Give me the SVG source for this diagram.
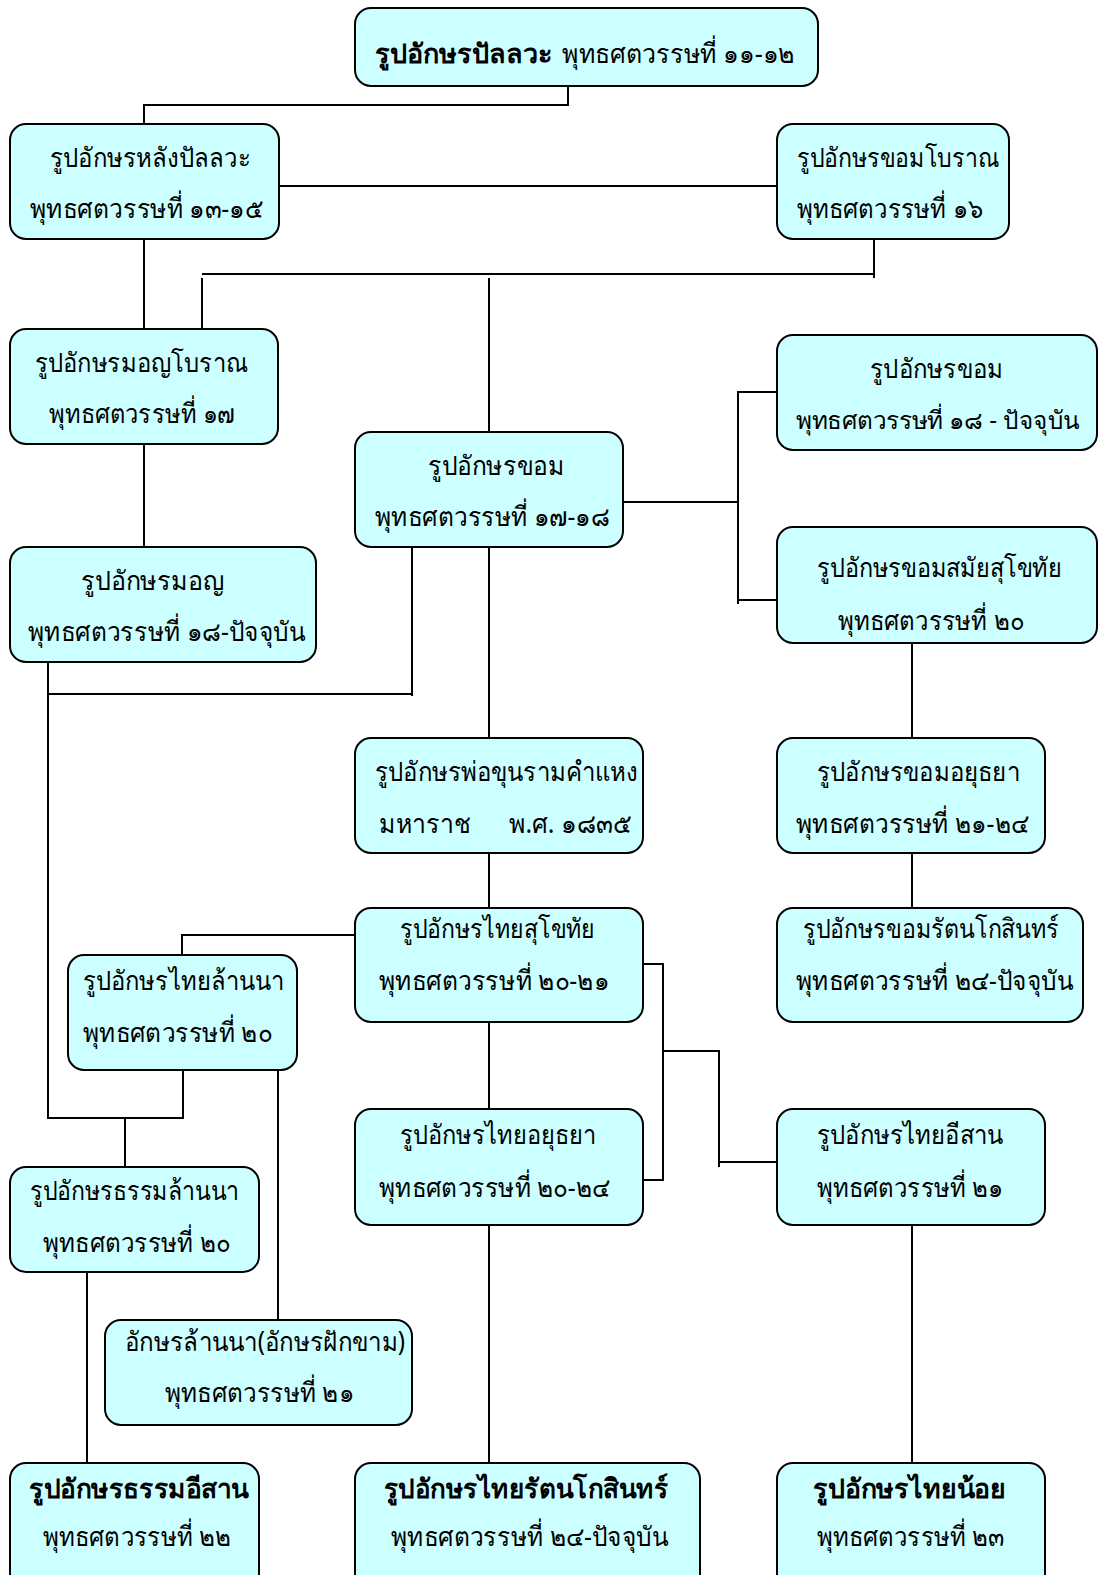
<svg xmlns="http://www.w3.org/2000/svg" width="1101" height="1575" viewBox="0 0 1101 1575">
<style>
.box{fill:#CCFFFF;stroke:#000;stroke-width:2}
.t{font-family:"Noto Sans","DejaVu Sans",sans-serif;font-size:27px;fill:#000}
.s{font-size:25px}
.b{font-weight:bold}
.c{fill:none;stroke:#000;stroke-width:2}
</style>
<rect width="1101" height="1575" fill="#fff"/>
<g id="connectors">
<path class="c" d="M568,86 V105 H144 V124"/>
<path class="c" d="M279,186 H777"/>
<path class="c" d="M144,239 V329"/>
<path class="c" d="M874,239 V278 M202,274 H874 M202,278 V329 M489,278 V432"/>
<path class="c" d="M144,444 V547"/>
<path class="c" d="M623,502 H738 M738,391 V604 M738,392 H777 M738,600 H777"/>
<path class="c" d="M412,547 V696 M48,694 H412 M48,662 V1118 H183 V1070 M125,1118 V1167"/>
<path class="c" d="M489,547 V738 M489,853 V908 M489,1022 V1109 M489,1225 V1463"/>
<path class="c" d="M912,643 V738 M912,853 V908 M912,1225 V1463"/>
<path class="c" d="M355,935 H182 V955"/>
<path class="c" d="M643,964 H663 V1180 H643 M663,1051 H719 V1167 M719,1162 H777"/>
<path class="c" d="M278,1070 V1320"/>
<path class="c" d="M87,1272 V1463"/>
</g>
<g id="nodes">
<g id="n1"><rect class="box" x="355" y="8" width="463" height="78" rx="16"/><text class="t b" x="375" y="63" textLength="178" lengthAdjust="spacingAndGlyphs">รูปอักษรปัลลวะ</text><text class="t" x="562" y="63" textLength="233" lengthAdjust="spacingAndGlyphs">พุทธศตวรรษที่ ๑๑-๑๒</text></g>
<g id="n2"><rect class="box" x="10" y="124" width="269" height="115" rx="16"/><text class="t" x="50" y="167" textLength="201" lengthAdjust="spacingAndGlyphs">รูปอักษรหลังปัลลวะ</text><text class="t" x="30" y="218" textLength="233" lengthAdjust="spacingAndGlyphs">พุทธศตวรรษที่ ๑๓-๑๕</text></g>
<g id="n3"><rect class="box" x="777" y="124" width="232" height="115" rx="16"/><text class="t" x="797" y="167" textLength="202" lengthAdjust="spacingAndGlyphs">รูปอักษรขอมโบราณ</text><text class="t" x="797" y="218" textLength="186" lengthAdjust="spacingAndGlyphs">พุทธศตวรรษที่ ๑๖</text></g>
<g id="n4"><rect class="box" x="10" y="329" width="268" height="115" rx="16"/><text class="t" x="35" y="372" textLength="213" lengthAdjust="spacingAndGlyphs">รูปอักษรมอญโบราณ</text><text class="t" x="49" y="423" textLength="186" lengthAdjust="spacingAndGlyphs">พุทธศตวรรษที่ ๑๗</text></g>
<g id="n5"><rect class="box" x="355" y="432" width="268" height="115" rx="16"/><text class="t" x="428" y="475" textLength="136" lengthAdjust="spacingAndGlyphs">รูปอักษรขอม</text><text class="t" x="375" y="526" textLength="235" lengthAdjust="spacingAndGlyphs">พุทธศตวรรษที่ ๑๗-๑๘</text></g>
<g id="n6"><rect class="box" x="777" y="335" width="320" height="115" rx="16"/><text class="t" x="870" y="378" textLength="133" lengthAdjust="spacingAndGlyphs">รูปอักษรขอม</text><text class="t s" x="796" y="429" textLength="284" lengthAdjust="spacingAndGlyphs">พุทธศตวรรษที่ ๑๘ - ปัจจุบัน</text></g>
<g id="n7"><rect class="box" x="10" y="547" width="306" height="115" rx="16"/><text class="t" x="81" y="590" textLength="143" lengthAdjust="spacingAndGlyphs">รูปอักษรมอญ</text><text class="t" x="28" y="641" textLength="277" lengthAdjust="spacingAndGlyphs">พุทธศตวรรษที่ ๑๘-ปัจจุบัน</text></g>
<g id="n8"><rect class="box" x="777" y="527" width="320" height="116" rx="16"/><text class="t" x="817" y="577" textLength="245" lengthAdjust="spacingAndGlyphs">รูปอักษรขอมสมัยสุโขทัย</text><text class="t" x="838" y="630" textLength="186" lengthAdjust="spacingAndGlyphs">พุทธศตวรรษที่ ๒๐</text></g>
<g id="n9"><rect class="box" x="355" y="738" width="288" height="115" rx="16"/><text class="t" x="375" y="781" textLength="263" lengthAdjust="spacingAndGlyphs">รูปอักษรพ่อขุนรามคำแหง</text><text class="t" x="379" y="833" xml:space="preserve" textLength="252" lengthAdjust="spacingAndGlyphs">มหาราช      พ.ศ. ๑๘๓๕</text></g>
<g id="n10"><rect class="box" x="777" y="738" width="268" height="115" rx="16"/><text class="t" x="817" y="781" textLength="203" lengthAdjust="spacingAndGlyphs">รูปอักษรขอมอยุธยา</text><text class="t" x="796" y="833" textLength="233" lengthAdjust="spacingAndGlyphs">พุทธศตวรรษที่ ๒๑-๒๔</text></g>
<g id="n11"><rect class="box" x="355" y="908" width="288" height="114" rx="16"/><text class="t" x="400" y="938" textLength="195" lengthAdjust="spacingAndGlyphs">รูปอักษรไทยสุโขทัย</text><text class="t" x="379" y="990" textLength="230" lengthAdjust="spacingAndGlyphs">พุทธศตวรรษที่ ๒๐-๒๑</text></g>
<g id="n12"><rect class="box" x="777" y="908" width="306" height="114" rx="16"/><text class="t" x="803" y="938" textLength="256" lengthAdjust="spacingAndGlyphs">รูปอักษรขอมรัตนโกสินทร์</text><text class="t" x="796" y="990" textLength="277" lengthAdjust="spacingAndGlyphs">พุทธศตวรรษที่ ๒๔-ปัจจุบัน</text></g>
<g id="n13"><rect class="box" x="68" y="955" width="229" height="115" rx="16"/><text class="t" x="83" y="990" textLength="201" lengthAdjust="spacingAndGlyphs">รูปอักษรไทยล้านนา</text><text class="t" x="83" y="1042" textLength="189" lengthAdjust="spacingAndGlyphs">พุทธศตวรรษที่ ๒๐</text></g>
<g id="n14"><rect class="box" x="355" y="1109" width="288" height="116" rx="16"/><text class="t" x="400" y="1144" textLength="196" lengthAdjust="spacingAndGlyphs">รูปอักษรไทยอยุธยา</text><text class="t" x="379" y="1197" textLength="231" lengthAdjust="spacingAndGlyphs">พุทธศตวรรษที่ ๒๐-๒๔</text></g>
<g id="n15"><rect class="box" x="777" y="1109" width="268" height="116" rx="16"/><text class="t" x="817" y="1144" textLength="186" lengthAdjust="spacingAndGlyphs">รูปอักษรไทยอีสาน</text><text class="t" x="817" y="1197" textLength="186" lengthAdjust="spacingAndGlyphs">พุทธศตวรรษที่ ๒๑</text></g>
<g id="n16"><rect class="box" x="10" y="1167" width="249" height="105" rx="16"/><text class="t" x="30" y="1200" textLength="209" lengthAdjust="spacingAndGlyphs">รูปอักษรธรรมล้านนา</text><text class="t" x="43" y="1252" textLength="187" lengthAdjust="spacingAndGlyphs">พุทธศตวรรษที่ ๒๐</text></g>
<g id="n17"><rect class="box" x="105" y="1320" width="307" height="105" rx="16"/><text class="t" x="125" y="1351" textLength="280" lengthAdjust="spacingAndGlyphs">อักษรล้านนา(อักษรฝักขาม)</text><text class="t" x="165" y="1402" textLength="189" lengthAdjust="spacingAndGlyphs">พุทธศตวรรษที่ ๒๑</text></g>
<g id="n18"><rect class="box" x="10" y="1463" width="249" height="130" rx="16"/><text class="t b" x="29" y="1498" textLength="220" lengthAdjust="spacingAndGlyphs">รูปอักษรธรรมอีสาน</text><text class="t" x="43" y="1546" textLength="188" lengthAdjust="spacingAndGlyphs">พุทธศตวรรษที่ ๒๒</text></g>
<g id="n19"><rect class="box" x="355" y="1463" width="345" height="130" rx="16"/><text class="t b" x="384" y="1498" textLength="284" lengthAdjust="spacingAndGlyphs">รูปอักษรไทยรัตนโกสินทร์</text><text class="t" x="391" y="1546" textLength="277" lengthAdjust="spacingAndGlyphs">พุทธศตวรรษที่ ๒๔-ปัจจุบัน</text></g>
<g id="n20"><rect class="box" x="777" y="1463" width="268" height="130" rx="16"/><text class="t b" x="813" y="1498" textLength="193" lengthAdjust="spacingAndGlyphs">รูปอักษรไทยน้อย</text><text class="t" x="817" y="1546" textLength="187" lengthAdjust="spacingAndGlyphs">พุทธศตวรรษที่ ๒๓</text></g>
</g>
</svg>
